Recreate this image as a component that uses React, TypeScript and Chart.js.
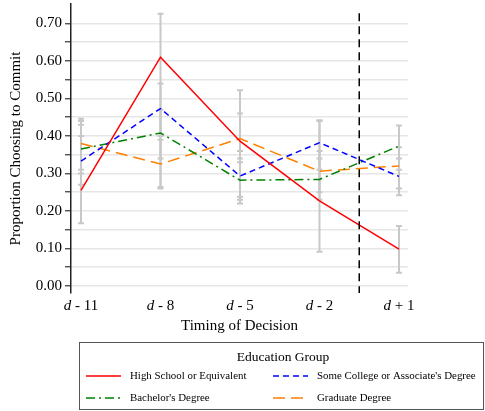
import React, { useEffect, useRef } from "react";
import { Chart, registerables } from "chart.js";

Chart.register(...registerables);

const timingValues = [-11, -8, -5, -2, 1];
const timingLabels = ["- 11", "- 8", "- 5", "- 2", "+ 1"];
const decisionLine = -0.5;

const seriesNames = [
  "High School or Equivalent",
  "Some College or Associate's Degree",
  "Bachelor's Degree",
  "Graduate Degree",
];
const highSchool = [0.255, 0.61, 0.386, 0.227, 0.098];
const someCollege = [0.333, 0.473, 0.293, 0.382, 0.292];
const bachelor = [0.365, 0.408, 0.282, 0.284, 0.373];
const graduate = [0.38, 0.325, 0.393, 0.306, 0.32];

const highSchoolLo = [0.167, 0.264, 0.238, 0.091, 0.035];
const highSchoolHi = [0.446, 0.726, 0.522, 0.442, 0.16];
const someCollegeLo = [0.27, 0.4, 0.23, 0.31, 0.242];
const someCollegeHi = [0.4, 0.54, 0.36, 0.44, 0.34];
const bachelorLo = [0.3, 0.34, 0.22, 0.23, 0.31];
const bachelorHi = [0.43, 0.47, 0.34, 0.34, 0.428];
const graduateLo = [0.31, 0.26, 0.33, 0.25, 0.26];
const graduateHi = [0.44, 0.39, 0.46, 0.36, 0.37];

const colors = ["#ff0000", "#0000ff", "#008000", "#ff8000"];
const dashes: number[][] = [[], [6, 4], [9, 4, 2, 4], [12, 6]];

const FONT = "'Liberation Serif', 'Times New Roman', serif";

export default function App() {
  const ref = useRef<HTMLCanvasElement | null>(null);

  useEffect(() => {
    document.body.style.margin = "0";
    const canvas = ref.current;
    if (!canvas) return;
    const values = [highSchool, someCollege, bachelor, graduate];
    const los = [highSchoolLo, someCollegeLo, bachelorLo, graduateLo];
    const his = [highSchoolHi, someCollegeHi, bachelorHi, graduateHi];

    const errorBars = {
      id: "errorBars",
      beforeDatasetsDraw(chart: any) {
        const { ctx, scales } = chart;
        const xs = scales.x, ys = scales.y;
        ctx.save();
        ctx.strokeStyle = "#c8c8c8";
        ctx.lineWidth = 2;
        for (let s = 0; s < 4; s++) {
          for (let i = 0; i < timingValues.length; i++) {
            const x = xs.getPixelForValue(timingValues[i]);
            const y1 = ys.getPixelForValue(los[s][i]);
            const y2 = ys.getPixelForValue(his[s][i]);
            ctx.beginPath();
            ctx.moveTo(x, y1);
            ctx.lineTo(x, y2);
            ctx.moveTo(x - 3, y1);
            ctx.lineTo(x + 3, y1);
            ctx.moveTo(x - 3, y2);
            ctx.lineTo(x + 3, y2);
            ctx.stroke();
          }
        }
        ctx.restore();
      },
      afterDraw(chart: any) {
        const { ctx, scales, chartArea } = chart;
        const xs = scales.x, ys = scales.y;
        ctx.save();
        // decision line
        const vx = xs.getPixelForValue(decisionLine);
        ctx.strokeStyle = "#000";
        ctx.lineWidth = 1.5;
        ctx.setLineDash([8, 5]);
        ctx.beginPath();
        ctx.moveTo(vx, ys.getPixelForValue(0.727));
        ctx.lineTo(vx, chartArea.bottom);
        ctx.stroke();
        ctx.setLineDash([]);
        // x tick labels with italic d
        ctx.fillStyle = "#000";
        ctx.textBaseline = "middle";
        ctx.textAlign = "left";
        for (let i = 0; i < timingValues.length; i++) {
          const x = xs.getPixelForValue(timingValues[i]);
          ctx.font = `italic 15px ${FONT}`;
          const wd = ctx.measureText("d").width;
          ctx.font = `15px ${FONT}`;
          const rest = " " + timingLabels[i];
          const wr = ctx.measureText(rest).width;
          const start = x - (wd + wr) / 2;
          ctx.font = `italic 15px ${FONT}`;
          ctx.fillText("d", start, 306);
          ctx.font = `15px ${FONT}`;
          ctx.fillText(rest, start + wd, 306);
        }
        // legend
        ctx.strokeStyle = "#555";
        ctx.lineWidth = 1;
        ctx.strokeRect(79.5, 342.5, 404, 67);
        ctx.font = `13.5px ${FONT}`;
        ctx.textAlign = "center";
        ctx.fillText("Education Group", 283, 357);
        ctx.textAlign = "left";
        ctx.font = `10.9px ${FONT}`;
        const pos = [
          [86, 376],
          [273, 376],
          [86, 398],
          [273, 398],
        ];
        for (let s = 0; s < 4; s++) {
          const [lx, ly] = pos[s];
          ctx.strokeStyle = colors[s];
          ctx.lineWidth = 1.5;
          ctx.setLineDash(dashes[s]);
          ctx.beginPath();
          ctx.moveTo(lx, ly);
          ctx.lineTo(lx + 35, ly);
          ctx.stroke();
          ctx.setLineDash([]);
          ctx.fillStyle = "#000";
          ctx.fillText(seriesNames[s], lx + 44, ly);
        }
        ctx.restore();
      },
    };

    const chart = new Chart(canvas, {
      type: "line",
      data: {
        datasets: values.map((v, s) => ({
          label: seriesNames[s],
          data: v.map((y, i) => ({ x: timingValues[i], y })),
          borderColor: colors[s],
          backgroundColor: colors[s],
          borderDash: dashes[s],
          borderWidth: 1.5,
          pointRadius: 0,
          tension: 0,
          fill: false,
        })),
      },
      options: {
        animation: false,
        responsive: false,
        devicePixelRatio: 1,
        layout: { padding: { left: 0, right: 77, top: 4, bottom: 72 } },
        plugins: {
          legend: { display: false },
          tooltip: { enabled: false },
        },
        scales: {
          x: {
            type: "linear",
            min: -11.377,
            max: 1.34,
            grid: { display: false },
            border: { display: false },
            ticks: { display: false },
            afterBuildTicks: (s: any) => {
              s.ticks = timingValues.map((v) => ({ value: v }));
            },
            afterFit: (s: any) => {
              s.height = 46;
              s.paddingLeft = 0;
              s.paddingRight = 0;
            },
            title: {
              display: true,
              text: "Timing of Decision",
              color: "#000",
              font: { family: FONT, size: 15 },
              padding: { top: 4, bottom: 4 },
            },
          },
          y: {
            type: "linear",
            min: -0.019,
            max: 0.752,
            afterBuildTicks: (s: any) => {
              const t: any[] = [];
              for (let k = 0; k <= 14; k++) t.push({ value: k * 0.05 });
              s.ticks = t;
            },
            afterFit: (s: any) => {
              s.width = 71;
              s.paddingTop = 0;
              s.paddingBottom = 0;
            },
            ticks: {
              color: "#000",
              font: { family: FONT, size: 15 },
              padding: 3,
              autoSkip: false,
              callback: (v: any) => {
                const n = Math.round(Number(v) * 100);
                return n % 10 === 0 ? (n / 100).toFixed(2) : "";
              },
            },
            grid: {
              color: "#e6e6e6",
              lineWidth: 1.5,
              borderDash: [6, 4],
              tickColor: "#333",
              tickLength: 6,
              tickWidth: 1.2,
              tickBorderDash: [],
            },
            border: { display: true, color: "#222", width: 1.5 },
            title: {
              display: true,
              text: "Proportion Choosing to Commit",
              color: "#000",
              font: { family: FONT, size: 15 },
              padding: { top: 7, bottom: 4 },
            },
          },
        },
      },
      plugins: [errorBars],
    } as any);

    return () => chart.destroy();
  }, []);

  return (
    <div style={{ width: 485, height: 411 }}>
      <canvas ref={ref} width={485} height={411} />
    </div>
  );
}
